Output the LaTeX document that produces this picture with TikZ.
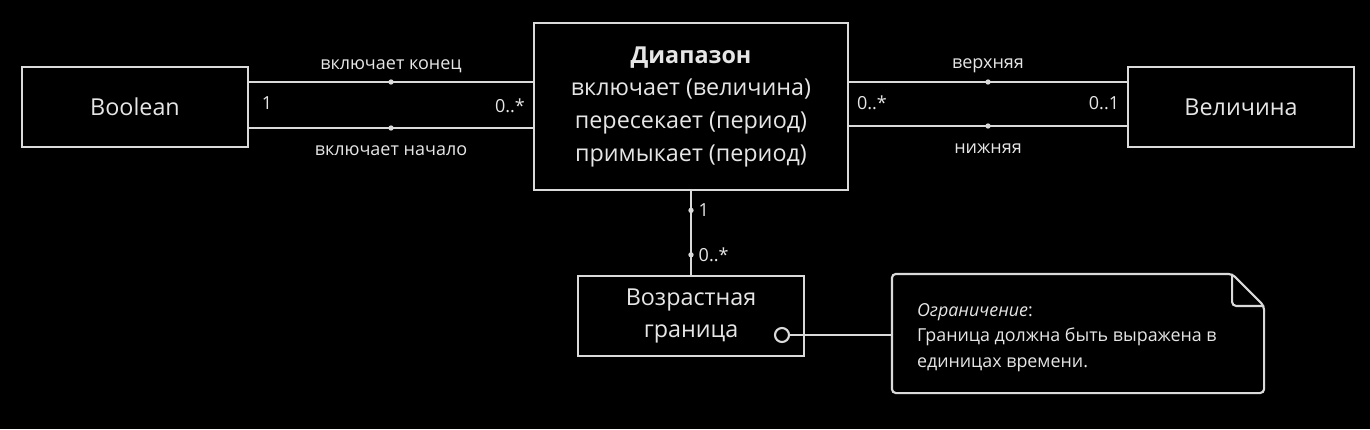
\documentclass[tikz,border=0pt]{standalone}
\usepackage{fontspec}
\setmainfont{Open Sans}
\usepackage{tikz}
\usetikzlibrary{positioning}
\usepackage{xcolor}
\definecolor{linecol}{HTML}{DADADA}
\definecolor{textcol}{HTML}{E6E6E6}

\begin{document}
\begin{tikzpicture}[x=0.75pt, y=-0.75pt,
    line width=1.6pt, draw=linecol, text=textcol,
    classbox/.style={draw=linecol, fill=black, minimum width=169.5pt, minimum height=60pt,
      align=center, font=\fontsize{17.5}{23.5}\selectfont},
    lbl/.style={font=\fontsize{13.5}{16}\selectfont, inner sep=2pt},
    dot/.style={circle, fill=linecol, inner sep=0pt, minimum size=4pt}]
    % фон
    \fill[black] (0,0) rectangle (1370,429);
    % классы
    \node[classbox] (bool) at (135,107) {Boolean};
    \node[classbox, minimum width=235.5pt, minimum height=125.25pt,
      font=\fontsize{17.5}{24.5}\selectfont] (range) at (691,106.5)
      {\textbf{Диапазон}\\включает (величина)\\пересекает (период)\\примыкает (период)};
    \node[classbox] (qty) at (1241,107) {Величина};
    \node[classbox] (age) at (691,316) {Возрастная\\граница};
    % Boolean -- Диапазон
    \draw (bool.east |- 0,82) -- node[dot]{} node[lbl, above=4pt]{включает конец} (range.west |- 0,82);
    \draw (bool.east |- 0,128) -- node[dot]{} node[lbl, below=10.5pt]{включает начало} (range.west |- 0,128);
    \node[lbl] (m1) at (267,103) {1};
    \node[lbl] (m2) at (510,106) {0..*};
    % Диапазон -- Величина
    \draw (range.east |- 0,82) -- node[dot]{} node[lbl, above=4pt]{верхняя} (qty.west |- 0,82);
    \draw (range.east |- 0,126) -- node[dot]{} node[lbl, below=10.5pt]{нижняя} (qty.west |- 0,126);
    \node[lbl] (m3) at (872,103) {0..*};
    \node[lbl] (m4) at (1104,103) {0..1};
    % Диапазон -- Возрастная граница
    \draw (range.south) -- node[pos=0.23, dot]{} node[pos=0.23, lbl, right=3pt]{1}
      node[pos=0.76, dot]{} node[pos=0.76, lbl, right=3pt]{0..*} (age.north);
    % ограничение
    \node[circle, draw=linecol, fill=black, minimum size=10.5pt, inner sep=0pt] (circ) at (782,335) {};
    \node[minimum width=277.5pt, minimum height=87.75pt] (note) at (1078,333.5) {};
    \draw[rounded corners=3pt] (note.north west) -- ([xshift=-24pt]note.north east)
      -- ([yshift=-24pt]note.north east) -- (note.south east) -- (note.south west) -- cycle;
    \draw[rounded corners=3pt] ([xshift=-24pt]note.north east) -- ([xshift=-24pt, yshift=-24pt]note.north east)
      -- ([yshift=-24pt]note.north east);
    \node[anchor=west, align=left, inner sep=0pt, font=\fontsize{13.4}{19}\selectfont] (notetxt)
      at ([xshift=18pt, yshift=-3pt]note.west)
      {\textit{Ограничение}:\\Граница должна быть выражена в\\единицах времени.};
    \draw (circ.east) -- (note.west |- circ.east);
\end{tikzpicture}
\end{document}
